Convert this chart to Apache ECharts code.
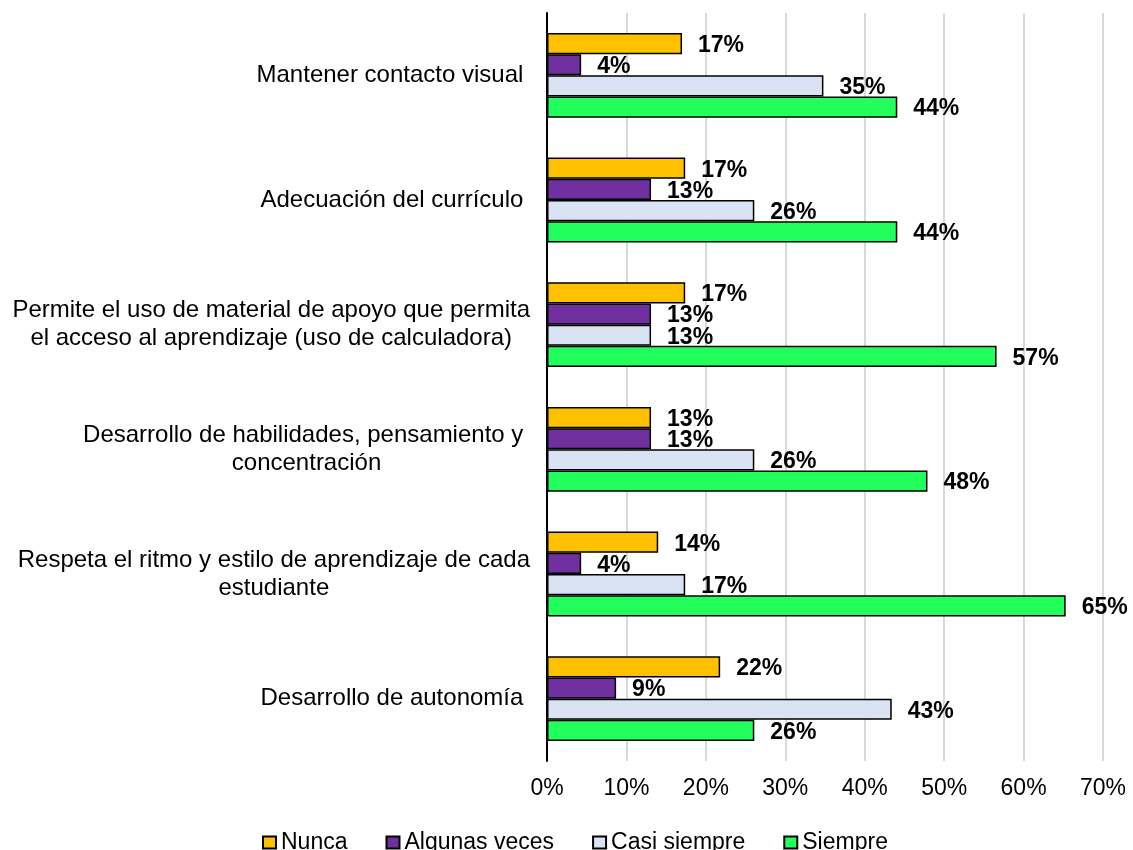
<!DOCTYPE html>
<html>
<head>
<meta charset="utf-8">
<title>Estrategias</title>
<script src="https://cdn.jsdelivr.net/npm/echarts@6/dist/echarts.min.js"></script>
<style>
  html, body { margin: 0; padding: 0; background: #fff; }
  #main { width: 1133px; height: 850px; }
</style>
</head>
<body>
<div id="main"></div>
<script>
  var categorias = [
    'Mantener contacto visual ',
    'Adecuación del currículo ',
    'Permite el uso de material de apoyo que permita\nel acceso al aprendizaje (uso de calculadora)',
    'Desarrollo de habilidades, pensamiento y \nconcentración',
    'Respeta el ritmo y estilo de aprendizaje de cada\nestudiante',
    'Desarrollo de autonomía '
  ];
  var nunca = [17.0, 17.4, 17.4, 13.1, 14.0, 21.8];
  var algunasVeces = [4.3, 13.1, 13.1, 13.1, 4.3, 8.7];
  var casiSiempre = [34.8, 26.1, 13.1, 26.1, 17.4, 43.4];
  var siempre = [44.1, 44.1, 56.6, 47.9, 65.3, 26.1];
  var ticksX = [0, 10, 20, 30, 40, 50, 60, 70];

  var fuente = "'Liberation Sans', Arial, sans-serif";

  function serie(nombre, datos, color) {
    return {
      name: nombre,
      type: 'bar',
      data: datos,
      barGap: '0%',
      barCategoryGap: '32%',
      itemStyle: { color: color, borderColor: '#000', borderWidth: 1.5 },
      label: {
        show: true,
        position: 'right',
        distance: 16,
        offset: [0, 2],
        color: '#000',
        fontWeight: 'bold',
        fontSize: 23,
        fontFamily: fuente,
        formatter: function (p) { return Math.round(p.value) + '%'; }
      }
    };
  }

  var myChart = echarts.init(document.getElementById('main'));
  var option = {
    animation: false,
    grid: { left: 547, right: 30, top: 13, bottom: 89 },
    legend: {
      top: 826,
      left: 257,
      icon: 'rect',
      itemWidth: 13,
      itemHeight: 12,
      itemGap: 38,
      textStyle: { fontSize: 23, fontFamily: fuente, color: '#000' },
      data: ['Nunca', 'Algunas veces', 'Casi siempre', 'Siempre']
    },
    xAxis: {
      type: 'value',
      min: ticksX[0],
      max: ticksX[ticksX.length - 1],
      interval: 10,
      axisLine: { show: false },
      axisTick: { show: false },
      splitLine: { lineStyle: { color: '#d9d9d9', width: 2 } },
      axisLabel: {
        margin: 16,
        fontSize: 23,
        fontFamily: fuente,
        color: '#000',
        formatter: '{value}%'
      }
    },
    yAxis: {
      type: 'category',
      inverse: true,
      data: categorias,
      axisLine: { lineStyle: { color: '#000', width: 2 } },
      axisTick: { show: false },
      axisLabel: {
        margin: 17,
        color: '#000',
        fontSize: 24,
        fontFamily: fuente,
        lineHeight: 28,
        formatter: function (v) {
          return v.split('\n').map(function (l) { return '{c|' + l + '}'; }).join('\n');
        },
        rich: {
          c: { align: 'center', fontSize: 24, fontFamily: fuente, color: '#000', lineHeight: 28 }
        }
      }
    },
    series: [
      serie('Nunca', nunca, '#FFC000'),
      serie('Algunas veces', algunasVeces, '#7030A0'),
      serie('Casi siempre', casiSiempre, '#DAE3F3'),
      serie('Siempre', siempre, '#22FF5C')
    ]
  };
  myChart.setOption(option);
</script>
</body>
</html>
